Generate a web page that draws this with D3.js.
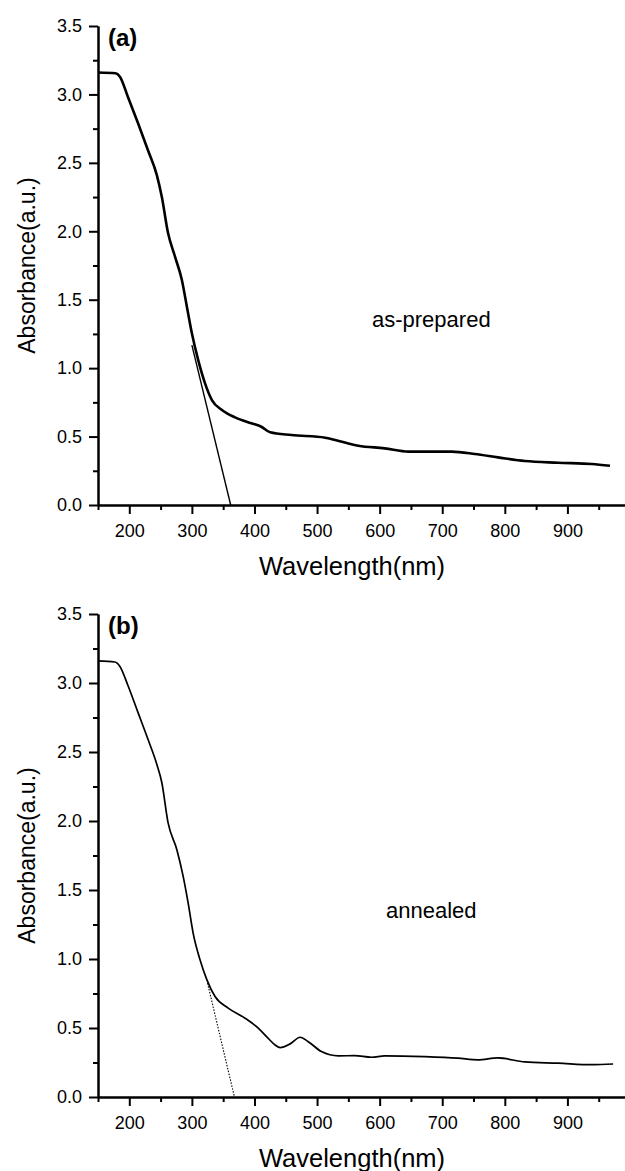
<!DOCTYPE html>
<html>
<head>
<meta charset="utf-8">
<script src="https://d3js.org/d3.v7.min.js"></script>
<style>
  body { margin: 0; background: #fff; }
  svg { display: block; }
  .axis text { font-family: "Liberation Sans", Arial, sans-serif; font-size: 18px; fill: #000; }
  .axis path, .axis line { stroke: #000; stroke-width: 2; }
  .title { font-family: "Liberation Sans", Arial, sans-serif; fill: #000; }
</style>
</head>
<body>
<script>

// data

var wavelengthA = [150, 178, 185, 198, 214, 230, 244, 252, 262, 273, 284, 292, 300, 310, 321, 332, 348, 369, 395, 411, 425, 459, 513, 529, 566, 608, 646, 715, 752, 789, 832, 885, 939, 968];
var absorbanceA = [3.16, 3.155, 3.13, 2.98, 2.79, 2.59, 2.41, 2.25, 1.985, 1.815, 1.644, 1.449, 1.255, 1.06, 0.889, 0.767, 0.694, 0.64, 0.597, 0.572, 0.531, 0.511, 0.492, 0.475, 0.433, 0.414, 0.39, 0.39, 0.373, 0.348, 0.321, 0.309, 0.3, 0.287];

var wavelengthB = [150, 177, 185, 198, 214, 230, 244, 252, 262, 276, 286, 294, 302, 313, 324, 337, 358, 385, 406, 422, 433, 441, 457, 473, 486, 507, 534, 560, 587, 608, 672, 725, 757, 789, 832, 885, 939, 973];
var absorbanceB = [3.16, 3.152, 3.12, 2.98, 2.785, 2.59, 2.41, 2.277, 1.986, 1.792, 1.6, 1.406, 1.188, 0.994, 0.849, 0.728, 0.644, 0.571, 0.499, 0.425, 0.377, 0.358, 0.385, 0.433, 0.401, 0.329, 0.298, 0.3, 0.288, 0.298, 0.292, 0.281, 0.269, 0.283, 0.254, 0.245, 0.234, 0.239];

// band-edge tangents [wavelength, absorbance]
var tangentA = [[300, 1.168], [362, 0]];
var tangentB = [[325, 0.825], [368, 0]];

var xMajor = [200, 300, 400, 500, 600, 700, 800, 900];
var xMinor = [150, 250, 350, 450, 550, 650, 750, 850, 950];
var yMajor = [0, 0.5, 1, 1.5, 2, 2.5, 3, 3.5];
var yMinor = [0.25, 0.75, 1.25, 1.75, 2.25, 2.75, 3.25];

var panels = [
  {tag: "(a)", note: "as-prepared", wl: wavelengthA, ab: absorbanceA, tan: tangentA,
   top: 26, bottom: 505, noteX: 372, noteY: 327, lineW: 2.6, dash: null},
  {tag: "(b)", note: "annealed", wl: wavelengthB, ab: absorbanceB, tan: tangentB,
   top: 614, bottom: 1097, noteX: 386, noteY: 918, lineW: 1.7, dash: "1.5,1.5"}
];

var svg = d3.select("body").append("svg")
    .attr("width", 625)
    .attr("height", 1171);

var x = d3.scaleLinear()
    .domain([150, 1000])
    .range([98, 630]);

panels.forEach(function(p) {
  var y = d3.scaleLinear()
      .domain([0, 3.5])
      .range([p.bottom, p.top]);

  var g = svg.append("g");

  // minor ticks first, major on top
  g.append("g")
    .attr("class", "x axis")
    .attr("transform", "translate(0," + p.bottom + ")")
    .call(d3.axisBottom(x).tickValues(xMinor).tickSize(5).tickSizeOuter(0).tickFormat(""));

  g.append("g")
    .attr("class", "x axis")
    .attr("transform", "translate(0," + p.bottom + ")")
    .call(d3.axisBottom(x).tickValues(xMajor).tickSize(9).tickSizeOuter(0).tickPadding(10));

  g.append("g")
    .attr("class", "y axis")
    .attr("transform", "translate(" + x(150) + ",0)")
    .call(d3.axisLeft(y).tickValues(yMinor).tickSize(5).tickSizeOuter(0).tickFormat(""));

  g.append("g")
    .attr("class", "y axis")
    .attr("transform", "translate(" + x(150) + ",0)")
    .call(d3.axisLeft(y).tickValues(yMajor).tickSize(9).tickSizeOuter(0).tickPadding(7).tickFormat(d3.format(".1f")));

  var line = d3.line()
      .x(function(d) { return x(d[0]); })
      .y(function(d) { return y(d[1]); })
      .curve(d3.curveMonotoneX);

  var pts = p.wl.map(function(w, i) { return [w, p.ab[i]]; });

  g.append("path")
    .datum(p.tan)
    .attr("fill", "none")
    .attr("stroke", "#000")
    .attr("stroke-width", p.dash ? 1.1 : 1.4)
    .attr("stroke-dasharray", p.dash)
    .attr("d", d3.line().x(function(d) { return x(d[0]); }).y(function(d) { return y(d[1]); }));

  g.append("path")
    .datum(pts)
    .attr("fill", "none")
    .attr("stroke", "#000")
    .attr("stroke-width", p.lineW)
    .attr("stroke-linejoin", "round")
    .attr("d", line);

  g.append("text")
    .attr("class", "title")
    .attr("x", 108)
    .attr("y", p.top + 20)
    .style("font-size", "24px")
    .style("font-weight", "bold")
    .text(p.tag);

  g.append("text")
    .attr("class", "title")
    .attr("x", p.noteX)
    .attr("y", p.noteY)
    .style("font-size", "22px")
    .text(p.note);

  g.append("text")
    .attr("class", "title")
    .attr("transform", "translate(35," + ((p.top + p.bottom) / 2) + ") rotate(-90)")
    .style("text-anchor", "middle")
    .style("font-size", "23px")
    .text("Absorbance(a.u.)");

  g.append("text")
    .attr("class", "title")
    .attr("x", 352)
    .attr("y", p.bottom + 70)
    .style("text-anchor", "middle")
    .style("font-size", "25.5px")
    .text("Wavelength(nm)");
});

</script>
</body>
</html>
